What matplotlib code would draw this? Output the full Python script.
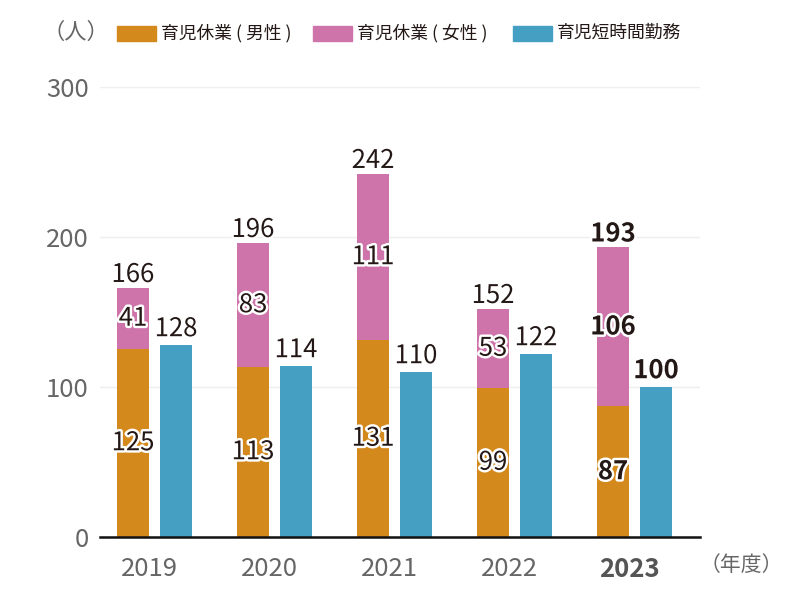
import matplotlib
matplotlib.use("Agg")
import matplotlib.pyplot as plt
import matplotlib.patheffects as pe
import numpy as np
from matplotlib.patches import Rectangle

plt.rcParams['font.family'] = ['Noto Sans CJK JP', 'DejaVu Sans']

years = ['2019', '2020', '2021', '2022', '2023']
male = [125, 113, 131, 99, 87]
female = [41, 83, 111, 53, 106]
totals = [166, 196, 242, 152, 193]
short_time = [128, 114, 110, 122, 100]
legend_labels = ['育児休業 ( 男性 )', '育児休業 ( 女性 )', '育児短時間勤務']
yticks = [0, 100, 200, 300]

c_male = '#D3891B'
c_female = '#CE74AA'
c_short = '#449FC2'
c_text = '#231815'

fig = plt.figure(figsize=(8, 6.01), dpi=100)
ax = fig.add_axes([0.125, 0.1065, 0.75, 0.7488])

x = np.arange(len(years))
off = 0.179
w = 0.267
ax.bar(x - off, male, w, color=c_male, zorder=2)
ax.bar(x - off, female, w, bottom=male, color=c_female, zorder=2)
ax.bar(x + off, short_time, w, color=c_short, zorder=2)

ax.set_xlim(-0.454, 4.546)
ax.set_ylim(0, 300)
ax.set_yticks(yticks)
ax.set_yticklabels([str(v) for v in yticks], fontsize=18.5, color='#666666')
ax.set_xticks(x - 0.04)
ax.set_xticklabels(years, fontsize=18.5, color='#666666')
for lbl in ax.get_xticklabels():
    if lbl.get_text() == '2023':
        lbl.set_fontweight('bold')
        lbl.set_color('#555555')
ax.tick_params(axis='y', length=0, pad=8)
ax.tick_params(axis='x', length=0, pad=14)
for s in ['left', 'right', 'top']:
    ax.spines[s].set_visible(False)
ax.spines['bottom'].set_color('#111111')
ax.spines['bottom'].set_linewidth(1.8)
ax.spines['bottom'].set_zorder(3)
ax.grid(axis='y', color='#eeeeee', linewidth=1, zorder=0)
ax.set_axisbelow(True)

stroke = [pe.withStroke(linewidth=3.5, foreground='white')]
for i in range(len(years)):
    wt = 'bold' if years[i] == '2023' else 'normal'
    kw = dict(fontsize=18.5, color=c_text, ha='center', fontweight=wt, path_effects=stroke, zorder=5)
    ax.text(x[i] - off, male[i] / 2, str(male[i]), va='center', **kw)
    ax.text(x[i] - off, male[i] + female[i] / 2, str(female[i]), va='center', **kw)
    ax.annotate(str(totals[i]), (x[i] - off, male[i] + female[i]), xytext=(0, 0),
                textcoords='offset points', va='bottom', **kw)
    ax.annotate(str(short_time[i]), (x[i] + off, short_time[i]), xytext=(0, 2),
                textcoords='offset points', va='bottom', **kw)

# legend
fig.text(43 / 800, 1 - 32 / 601, '（人）', fontsize=16, color='#666666', ha='left', va='center')
patches = [(117, c_male), (313, c_female), (513, c_short)]
for (px, col), lab in zip(patches, legend_labels):
    fig.patches.append(Rectangle((px / 800, 1 - 41 / 601), 39 / 800, 15 / 601,
                                 transform=fig.transFigure, color=col))
    fig.text((px + 44) / 800, 1 - 33 / 601, lab, fontsize=12.8, color=c_text, ha='left', va='center')

fig.text(700 / 800, 1 - 565 / 601, '（年度）', fontsize=15, color='#666666', ha='left', va='center')

fig.savefig('out.png', dpi=100)
